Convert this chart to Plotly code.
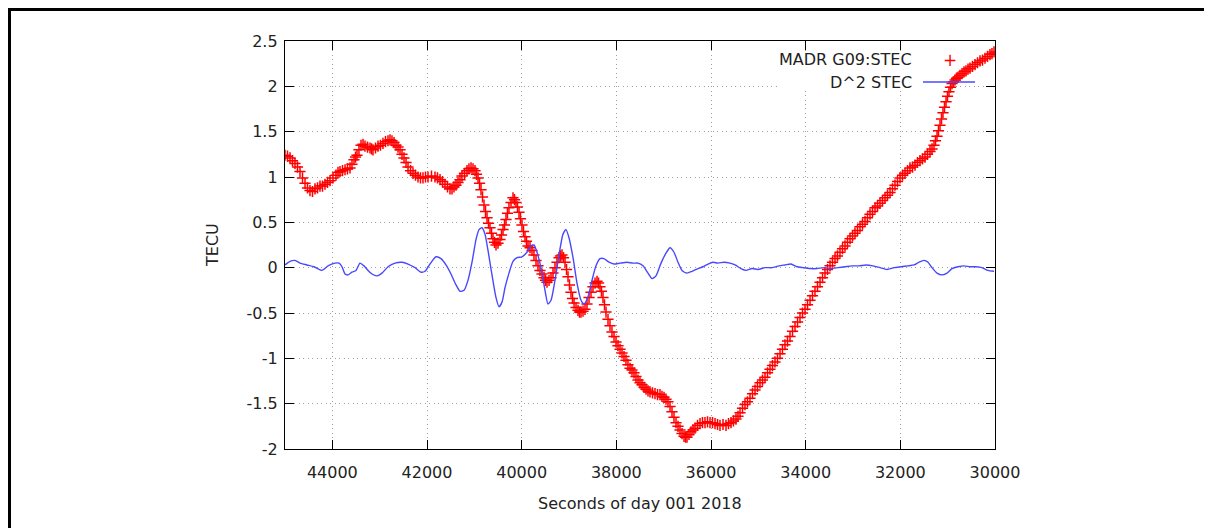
import plotly.graph_objects as go

# ---- data ----
stec_sec = [45000, 44947, 44894, 44842, 44789, 44736, 44683, 44630, 44577, 44525,
            44472, 44419, 44366, 44313, 44261, 44208, 44155, 44102, 44049, 43986,
            43923, 43880, 43838, 43785, 43732, 43680, 43627, 43585, 43542, 43510,
            43479, 43437, 43394, 43352, 43310, 43257, 43204, 43172, 43141, 43088,
            43035, 42983, 42930, 42877, 42824, 42782, 42740, 42697, 42655, 42612,
            42570, 42528, 42486, 42443, 42401, 42348, 42296, 42243, 42190, 42138,
            42085, 42032, 41979, 41905, 41831, 41778, 41725, 41672, 41620, 41567,
            41514, 41472, 41430, 41387, 41345, 41303, 41261, 41208, 41155, 41113,
            41070, 41028, 40986, 40954, 40922, 40890, 40859, 40827, 40796, 40764,
            40732, 40700, 40669, 40637, 40606, 40574, 40542, 40500, 40458, 40426,
            40394, 40362, 40331, 40300, 40268, 40225, 40183, 40151, 40120, 40088,
            40056, 40025, 39993, 39962, 39930, 39898, 39866, 39824, 39782, 39740,
            39697, 39655, 39613, 39570, 39528, 39497, 39465, 39422, 39380, 39338,
            39296, 39254, 39211, 39180, 39148, 39116, 39084, 39052, 39021, 38990,
            38958, 38926, 38894, 38852, 38810, 38778, 38746, 38704, 38662, 38620,
            38577, 38535, 38493, 38450, 38408, 38376, 38345, 38314, 38282, 38250,
            38218, 38176, 38134, 38092, 38049, 38007, 37965, 37922, 37880, 37838,
            37796, 37754, 37711, 37669, 37627, 37585, 37542, 37500, 37458, 37416,
            37373, 37331, 37289, 37236, 37183, 37130, 37078, 37036, 36993, 36951,
            36909, 36866, 36824, 36782, 36739, 36697, 36655, 36612, 36570, 36538,
            36507, 36465, 36423, 36380, 36338, 36285, 36232, 36180, 36127, 36074,
            36021, 35968, 35915, 35862, 35810, 35746, 35683, 35630, 35577, 35525,
            35472, 35430, 35387, 35334, 35282, 35229, 35176, 35123, 35070, 35018,
            34965, 34912, 34859, 34806, 34754, 34701, 34648, 34595, 34542, 34490,
            34437, 34384, 34331, 34278, 34225, 34172, 34120, 34067, 34014, 33961,
            33908, 33856, 33803, 33750, 33697, 33644, 33592, 33539, 33486, 33433,
            33380, 33328, 33275, 33222, 33169, 33116, 33063, 33010, 32958, 32905,
            32852, 32799, 32746, 32694, 32641, 32588, 32535, 32482, 32430, 32377,
            32324, 32271, 32218, 32166, 32113, 32060, 32007, 31954, 31901, 31848,
            31796, 31743, 31690, 31638, 31585, 31532, 31479, 31426, 31373, 31331,
            31289, 31257, 31225, 31194, 31162, 31130, 31099, 31067, 31035, 31004,
            30972, 30940, 30908, 30877, 30845, 30814, 30782, 30740, 30697, 30655,
            30613, 30570, 30528, 30475, 30422, 30370, 30317, 30264, 30211, 30158,
            30106, 30064, 30021]
stec_val = [1.24, 1.23, 1.21, 1.18, 1.15, 1.11, 1.06, 0.99, 0.93, 0.88,
            0.85, 0.84, 0.87, 0.88, 0.90, 0.90, 0.92, 0.94, 0.96, 0.99,
            1.02, 1.05, 1.06, 1.07, 1.08, 1.09, 1.10, 1.14, 1.19, 1.22,
            1.24, 1.30, 1.35, 1.36, 1.34, 1.33, 1.32, 1.31, 1.30, 1.32,
            1.34, 1.35, 1.37, 1.39, 1.40, 1.41, 1.40, 1.38, 1.35, 1.33,
            1.30, 1.25, 1.21, 1.16, 1.11, 1.07, 1.04, 1.02, 1.00, 0.99,
            0.99, 1.00, 1.00, 1.01, 1.00, 0.99, 0.97, 0.95, 0.92, 0.89,
            0.87, 0.87, 0.89, 0.91, 0.94, 0.97, 1.01, 1.04, 1.07, 1.09,
            1.10, 1.09, 1.07, 1.03, 0.99, 0.93, 0.86, 0.78, 0.69, 0.62,
            0.55, 0.49, 0.44, 0.38, 0.32, 0.28, 0.25, 0.27, 0.31, 0.36,
            0.42, 0.47, 0.53, 0.60, 0.66, 0.72, 0.77, 0.75, 0.72, 0.67,
            0.61, 0.54, 0.47, 0.40, 0.34, 0.29, 0.24, 0.22, 0.19, 0.14,
            0.08, 0.02, -0.03, -0.07, -0.11, -0.14, -0.16, -0.14, -0.11, -0.06,
            0.00, 0.06, 0.11, 0.13, 0.14, 0.11, 0.06, -0.02, -0.10, -0.19,
            -0.27, -0.34, -0.39, -0.44, -0.47, -0.49, -0.49, -0.48, -0.46, -0.40,
            -0.33, -0.27, -0.21, -0.17, -0.15, -0.17, -0.21, -0.26, -0.33, -0.41,
            -0.49, -0.57, -0.64, -0.71, -0.76, -0.82, -0.86, -0.90, -0.94, -0.98,
            -1.02, -1.07, -1.11, -1.13, -1.16, -1.20, -1.24, -1.27, -1.29, -1.32,
            -1.34, -1.36, -1.37, -1.38, -1.39, -1.40, -1.40, -1.42, -1.43, -1.45,
            -1.48, -1.53, -1.59, -1.65, -1.71, -1.75, -1.79, -1.83, -1.86, -1.87,
            -1.87, -1.84, -1.81, -1.79, -1.77, -1.74, -1.72, -1.71, -1.71, -1.70,
            -1.71, -1.71, -1.72, -1.73, -1.74, -1.73, -1.74, -1.72, -1.71, -1.69,
            -1.67, -1.64, -1.60, -1.55, -1.51, -1.48, -1.44, -1.39, -1.35, -1.31,
            -1.27, -1.24, -1.21, -1.16, -1.12, -1.08, -1.04, -1.00, -0.95, -0.90,
            -0.85, -0.81, -0.76, -0.70, -0.65, -0.60, -0.55, -0.50, -0.46, -0.41,
            -0.36, -0.31, -0.26, -0.21, -0.16, -0.11, -0.06, -0.02, 0.02, 0.06,
            0.10, 0.13, 0.17, 0.21, 0.24, 0.28, 0.32, 0.35, 0.38, 0.41,
            0.45, 0.48, 0.51, 0.55, 0.59, 0.62, 0.66, 0.68, 0.71, 0.74,
            0.77, 0.80, 0.83, 0.87, 0.91, 0.95, 0.99, 1.02, 1.04, 1.07,
            1.10, 1.11, 1.13, 1.16, 1.18, 1.20, 1.22, 1.25, 1.28, 1.31,
            1.35, 1.40, 1.45, 1.51, 1.57, 1.64, 1.71, 1.77, 1.83, 1.89,
            1.94, 1.99, 2.03, 2.05, 2.07, 2.09, 2.10, 2.12, 2.14, 2.16,
            2.17, 2.19, 2.20, 2.22, 2.24, 2.26, 2.28, 2.29, 2.31, 2.33,
            2.35, 2.36, 2.38]

d2_sec = [45000, 44894, 44789, 44683, 44535, 44387, 44218, 44092, 43944, 43859,
          43796, 43732, 43669, 43585, 43500, 43416, 43331, 43246, 43162, 43056,
          42951, 42824, 42676, 42528, 42401, 42253, 42127, 42042, 41937, 41810,
          41704, 41599, 41493, 41387, 41303, 41218, 41134, 41049, 40965, 40901,
          40838, 40775, 40711, 40627, 40542, 40479, 40415, 40352, 40268, 40183,
          40099, 39993, 39887, 39803, 39739, 39676, 39592, 39507, 39444, 39380,
          39296, 39211, 39127, 39064, 39000, 38915, 38831, 38746, 38683, 38598,
          38514, 38430, 38345, 38261, 38155, 38049, 37923, 37775, 37648, 37542,
          37437, 37331, 37246, 37162, 37056, 36951, 36866, 36782, 36697, 36613,
          36507, 36401, 36275, 36169, 36063, 35958, 35852, 35725, 35599, 35493,
          35366, 35261, 35134, 35007, 34859, 34711, 34563, 34437, 34310, 34183,
          34056, 33908, 33761, 33613, 33465, 33317, 33169, 33021, 32873, 32725,
          32577, 32430, 32282, 32134, 31986, 31838, 31711, 31606, 31500, 31415,
          31331, 31225, 31120, 31014, 30908, 30782, 30655, 30528, 30401, 30275,
          30148, 30021]
d2_val = [0.03, 0.07, 0.08, 0.05, 0.03, 0.01, -0.03, 0.02, 0.05, 0.05,
          0.01, -0.07, -0.08, -0.05, -0.03, 0.05, 0.02, -0.03, -0.07, -0.09,
          -0.06, 0.01, 0.05, 0.06, 0.04, 0.00, -0.05, -0.04, 0.04, 0.12,
          0.10, 0.03, -0.07, -0.19, -0.26, -0.25, -0.14, 0.06, 0.31, 0.42,
          0.44, 0.37, 0.19, -0.08, -0.33, -0.43, -0.38, -0.22, -0.06, 0.07,
          0.11, 0.12, 0.17, 0.24, 0.25, 0.17, 0.00, -0.25, -0.40, -0.36,
          -0.14, 0.14, 0.37, 0.42, 0.33, 0.11, -0.17, -0.36, -0.40, -0.32,
          -0.14, 0.02, 0.10, 0.10, 0.06, 0.04, 0.05, 0.06, 0.05, 0.05,
          0.02, -0.06, -0.12, -0.09, 0.05, 0.16, 0.22, 0.17, 0.06, -0.03,
          -0.06, -0.04, -0.01, 0.01, 0.04, 0.06, 0.05, 0.06, 0.05, 0.03,
          -0.01, -0.03, -0.01, -0.02, 0.00, 0.00, 0.02, 0.03, 0.04, 0.01,
          0.00, -0.01, -0.01, 0.00, -0.01, 0.00, 0.01, 0.02, 0.02, 0.03,
          0.02, 0.00, -0.02, 0.00, 0.01, 0.02, 0.03, 0.06, 0.08, 0.06,
          0.00, -0.06, -0.08, -0.06, -0.01, 0.01, 0.02, 0.01, 0.01, 0.00,
          -0.03, -0.04]

x_ticks = [44000, 42000, 40000, 38000, 36000, 34000, 32000, 30000]
x_tick_text = ["44000", "42000", "40000", "38000", "36000", "34000", "32000", "30000"]
y_ticks = [2.5, 2, 1.5, 1, 0.5, 0, -0.5, -1, -1.5, -2]
y_tick_text = ["2.5", "2", "1.5", "1", "0.5", "0", "-0.5", "-1", "-1.5", "-2"]

name_stec = "MADR G09:STEC"
name_d2 = "D^2 STEC"
x_title = "Seconds of day 001 2018"
y_title = "TECU"

RED = "#ff0000"
BLUE = "#4848ff"
FONT = "DejaVu Sans"
TXT = "#222222"

fig = go.Figure()
fig.add_trace(go.Scatter(x=stec_sec, y=stec_val, mode="markers", name=name_stec,
                         marker=dict(symbol="cross-thin", size=8,
                                     line=dict(color=RED, width=1.5), color=RED),
                         showlegend=False))
fig.add_trace(go.Scatter(x=d2_sec, y=d2_val, mode="lines", name=name_d2,
                         line=dict(color=BLUE, width=1.4, shape="spline", smoothing=0.6),
                         showlegend=False))

axis_common = dict(showline=True, linecolor="black", linewidth=1.3, mirror="ticks",
                   ticks="inside", ticklen=9, tickcolor="black", tickwidth=1.3,
                   showgrid=True, gridcolor="#a0a0a0", gridwidth=1, griddash="1px,3.5px",
                   zeroline=False, tickfont=dict(family=FONT, size=16, color=TXT))

fig.update_xaxes(range=[45000, 30000], tickvals=x_ticks, ticktext=x_tick_text,
                 ticklabelstandoff=9, **axis_common)
fig.update_yaxes(range=[-2, 2.5], tickvals=y_ticks, ticktext=y_tick_text,
                 ticklabelstandoff=3, **axis_common)

# page is offset by the 8px body margin; plot area spans page x 285..995, y 41..449
W, H = 1204, 520
L, T = 277, 33
PW, PH = 710, 408
R, B = W - L - PW, H - T - PH
X0P, Y1P = 285, 449  # plot-area origin in page pixels


def px(xp):
    return (xp - X0P) / PW


def py(yp):
    return (Y1P - yp) / PH


shapes = [
    # outer frame (top and left)
    dict(type="line", xref="paper", yref="paper", x0=px(8), x1=px(1215), y0=py(9.5), y1=py(9.5),
         line=dict(color="black", width=3)),
    dict(type="line", xref="paper", yref="paper", x0=px(9.5), x1=px(9.5), y0=py(8), y1=py(535),
         line=dict(color="black", width=3)),
    # opaque key background (covers grid only)
    dict(type="rect", xref="paper", yref="paper", x0=px(778), x1=px(944), y0=py(91), y1=py(51),
         fillcolor="white", line=dict(width=0), layer="above"),
    # key sample line
    dict(type="line", xref="paper", yref="paper", x0=px(923), x1=px(975), y0=py(82), y1=py(82),
         line=dict(color=BLUE, width=1.4)),
]

annotations = [
    dict(text=name_stec, xref="paper", yref="paper", x=px(914), y=py(60), xanchor="right",
         yanchor="middle", showarrow=False, font=dict(family=FONT, size=16, color=TXT)),
    dict(text=name_d2, xref="paper", yref="paper", x=px(914), y=py(82), xanchor="right",
         yanchor="middle", showarrow=False, font=dict(family=FONT, size=16, color=TXT)),
    dict(text="+", xref="paper", yref="paper", x=px(950), y=py(60), xanchor="center",
         yanchor="middle", showarrow=False, font=dict(family=FONT, size=17, color=RED)),
    dict(text=y_title, xref="paper", yref="paper", x=px(212), y=0.5, textangle=-90,
         xanchor="center", yanchor="middle", showarrow=False,
         font=dict(family=FONT, size=16, color=TXT)),
    dict(text=x_title, xref="paper", yref="paper", x=px(640), y=py(503),
         xanchor="center", yanchor="middle", showarrow=False,
         font=dict(family=FONT, size=16, color=TXT)),
]

fig.update_layout(width=W, height=H, margin=dict(l=L, r=R, t=T, b=B, autoexpand=False),
                  paper_bgcolor="white", plot_bgcolor="white",
                  shapes=shapes, annotations=annotations, showlegend=False)

fig.write_html("out.html")
